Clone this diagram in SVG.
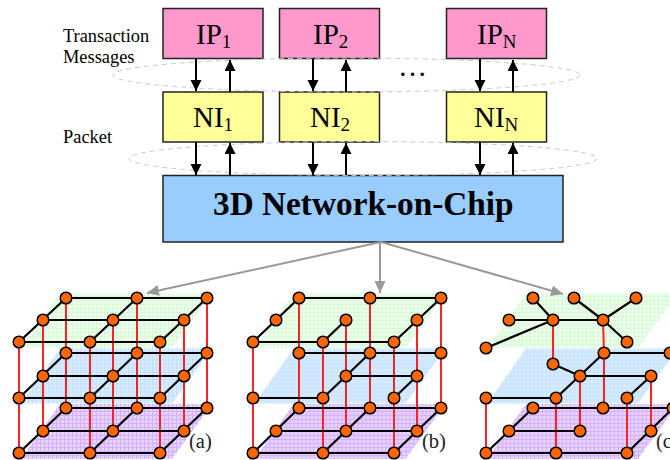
<svg xmlns="http://www.w3.org/2000/svg" width="670" height="460" viewBox="0 0 670 460">
<style>
text{font-family:"Liberation Serif","Times New Roman",serif;fill:#000}
.lab{font-size:18.4px}
.big{font-size:29px}
.sub{font-size:19px}
.tag{font-size:20.5px;fill:#222}
.ip{fill:#ff99cc;stroke:#222;stroke-width:1.5}
.ni{fill:#ffff99;stroke:#222;stroke-width:1.5}
.noc{fill:#99ccff;stroke:#222;stroke-width:1.5}
.halo{fill:none;stroke:#c8c8c8;stroke-width:1;stroke-dasharray:5 4}
.bus{stroke:#000;stroke-width:2;fill:none}
.gray{stroke:#999;stroke-width:2;fill:none}
.k{stroke:#000;stroke-width:2.2;fill:none;stroke-linecap:round}
.r{stroke:#f22;stroke-width:2;fill:none}
.n{fill:#ff6600;stroke:#000;stroke-width:1.5}
</style>
<defs>
<marker id="ah" markerUnits="userSpaceOnUse" markerWidth="12" markerHeight="12" refX="11" refY="5.5" orient="auto"><path d="M0 0L11 5.5L0 11Z" fill="#000"/></marker>
<marker id="ag" markerUnits="userSpaceOnUse" markerWidth="14" markerHeight="12" refX="12" refY="5.5" orient="auto"><path d="M0 0L12 5.5L0 11Z" fill="#999"/></marker>
<pattern id="pg" width="4" height="4" patternUnits="userSpaceOnUse"><rect width="4" height="4" fill="#ecffec"/><path d="M0 .5H4M.5 0V4" stroke="#d8f8d8" stroke-width="1"/></pattern>
<pattern id="pb" width="4" height="4" patternUnits="userSpaceOnUse"><rect width="4" height="4" fill="#d8ecff"/><path d="M0 .5H4M.5 0V4" stroke="#c4e2ff" stroke-width="1"/></pattern>
<pattern id="pp" width="4" height="4" patternUnits="userSpaceOnUse"><rect width="4" height="4" fill="#e6d2ff"/><path d="M0 .5H4M.5 0V4" stroke="#d4b0ff" stroke-width="1"/></pattern>
<polygon id="pl" points="60,293 212,293 172,348 21,348"/>
</defs>
<rect width="670" height="460" fill="#fff"/>

<g id="planes">
<use href="#pl" fill="url(#pg)"/><use href="#pl" y="55.5" fill="url(#pb)"/><use href="#pl" y="111" fill="url(#pp)"/>
<use href="#pl" x="233.5" fill="url(#pg)"/><use href="#pl" x="233.5" y="55.5" fill="url(#pb)"/><use href="#pl" x="233.5" y="111" fill="url(#pp)"/>
<use href="#pl" x="466" fill="url(#pg)"/><use href="#pl" x="466" y="55.5" fill="url(#pb)"/><use href="#pl" x="466" y="111" fill="url(#pp)"/>
</g>

<g id="ip1"><rect class="ip" x="163" y="8.500" width="100" height="50"/><text class="big" x="196" y="44">IP<tspan class="sub" dy="4">1</tspan></text></g>
<g id="ip2"><rect class="ip" x="279.500" y="8.500" width="100" height="50"/><text class="big" x="313" y="44">IP<tspan class="sub" dy="4">2</tspan></text></g>
<g id="ipn"><rect class="ip" x="446.500" y="8.500" width="100" height="50"/><text class="big" x="477" y="44">IP<tspan class="sub" dy="4">N</tspan></text></g>
<g id="ni1"><rect class="ni" x="163" y="92" width="100" height="50"/><text class="big" x="193" y="127">NI<tspan class="sub" dy="4">1</tspan></text></g>
<g id="ni2"><rect class="ni" x="279.500" y="92" width="100" height="50"/><text class="big" x="310" y="127">NI<tspan class="sub" dy="4">2</tspan></text></g>
<g id="nin"><rect class="ni" x="446.500" y="92" width="100" height="50"/><text class="big" x="474" y="127">NI<tspan class="sub" dy="4">N</tspan></text></g>
<g id="noc"><rect class="noc" x="163" y="175.500" width="400" height="66.500"/><text x="213" y="215" font-size="33.300" font-weight="bold">3D Network-on-Chip</text></g>

<g id="labels">
<text class="lab" x="63" y="42">Transaction</text>
<text class="lab" x="63" y="63">Messages</text>
<text class="lab" x="63" y="143">Packet</text>
<text x="398" y="76" font-size="29">…</text>
<text class="tag" x="189" y="448">(a)</text>
<text class="tag" x="422" y="448">(b)</text>
<text class="tag" x="656" y="448">(c)</text>
</g>

<g id="connectors">
<ellipse class="halo" cx="346.500" cy="75" rx="233.500" ry="17"/>
<ellipse class="halo" cx="363" cy="158.500" rx="234" ry="17"/>
<g marker-end="url(#ah)" class="bus">
<path d="M196 59V91"/><path d="M230 92V60"/><path d="M313 59V91"/><path d="M346 92V60"/><path d="M480 59V91"/><path d="M513 92V60"/>
<path d="M196 142V175"/><path d="M230 175V143"/><path d="M313 142V175"/><path d="M346 175V143"/><path d="M480 142V175"/><path d="M513 175V143"/>
</g>
<path class="gray" marker-end="url(#ag)" d="M381 242L147 293"/>
<path class="gray" marker-end="url(#ag)" d="M380 242V293"/>
<path class="gray" marker-end="url(#ag)" d="M381 242L563 294"/>

<g id="mesh-a-edges">
<path class="r" d="M19 342V453M90 342V453M160 342V453M43 320V431M113 320V431M184 320V431M66 298V408M137 298V408M207 298V408"/>
<path class="k" d="M66 298H207M43 320H184M19 342H160M66 298L19 342M137 298L90 342M207 298L160 342"/>
<path class="k" d="M66 353H207M43 376H184M19 398H160M66 353L19 398M137 353L90 398M207 353L160 398"/>
<path class="k" d="M66 408H207M43 431H184M19 453H160M66 408L19 453M137 408L90 453M207 408L160 453"/>
</g>
<g id="mesh-b-edges">
<path class="r" d="M253 342V453M323 342V453M394 342V453M346 320V431M417 320V431M299 298V408M370 298V408M441 298V408"/>
<path class="k" d="M299 298H441M253 342H394M299 298L253 342M346 320L323 342M441 298L394 342"/>
<path class="k" d="M299 353H441M346 376H417M253 398H323M370 353L323 398M417 376L394 398"/>
<path class="k" d="M299 408H441M276 431H417M253 453H394M299 408L253 453M370 408L323 453M441 408L394 453"/>
</g>
<g id="mesh-c-edges">
<path class="r" d="M553 320V364M603 320L604 353M604 353V408M580 376V431M486 398V453M556 398V453M627 398V453M651 376V431"/>
<path class="k" d="M533 298L553 320M509 320H603M486 348L553 320M574 298L603 320M636 298L603 320M603 320L627 342"/>
<path class="k" d="M553 364L580 376M604 353L556 398M486 398H556M604 353H672M580 376H651M627 398L651 376"/>
<path class="k" d="M533 408H672M533 408L486 453M509 431H580M486 453H627M627 453L673 408"/>
</g>
</g>

<g id="mesh-a-nodes">
<g id="a1"><circle class="n" cx="66" cy="298" r="5.800"/></g><g id="a2"><circle class="n" cx="137" cy="298" r="5.800"/></g><g id="a3"><circle class="n" cx="207" cy="298" r="5.800"/></g>
<g id="a4"><circle class="n" cx="43" cy="320" r="5.800"/></g><g id="a5"><circle class="n" cx="113" cy="320" r="5.800"/></g><g id="a6"><circle class="n" cx="184" cy="320" r="5.800"/></g>
<g id="a7"><circle class="n" cx="19" cy="342" r="5.800"/></g><g id="a8"><circle class="n" cx="90" cy="342" r="5.800"/></g><g id="a9"><circle class="n" cx="160" cy="342" r="5.800"/></g>
<g id="a10"><circle class="n" cx="66" cy="353" r="5.800"/></g><g id="a11"><circle class="n" cx="137" cy="353" r="5.800"/></g><g id="a12"><circle class="n" cx="207" cy="353" r="5.800"/></g>
<g id="a13"><circle class="n" cx="43" cy="376" r="5.800"/></g><g id="a14"><circle class="n" cx="113" cy="376" r="5.800"/></g><g id="a15"><circle class="n" cx="184" cy="376" r="5.800"/></g>
<g id="a16"><circle class="n" cx="19" cy="398" r="5.800"/></g><g id="a17"><circle class="n" cx="90" cy="398" r="5.800"/></g><g id="a18"><circle class="n" cx="160" cy="398" r="5.800"/></g>
<g id="a19"><circle class="n" cx="66" cy="408" r="5.800"/></g><g id="a20"><circle class="n" cx="137" cy="408" r="5.800"/></g><g id="a21"><circle class="n" cx="207" cy="408" r="5.800"/></g>
<g id="a22"><circle class="n" cx="43" cy="431" r="5.800"/></g><g id="a23"><circle class="n" cx="113" cy="431" r="5.800"/></g><g id="a24"><circle class="n" cx="184" cy="431" r="5.800"/></g>
<g id="a25"><circle class="n" cx="19" cy="453" r="5.800"/></g><g id="a26"><circle class="n" cx="90" cy="453" r="5.800"/></g><g id="a27"><circle class="n" cx="160" cy="453" r="5.800"/></g>
</g>
<g id="mesh-b-nodes">
<g id="b1"><circle class="n" cx="299" cy="298" r="5.800"/></g><g id="b2"><circle class="n" cx="370" cy="298" r="5.800"/></g><g id="b3"><circle class="n" cx="441" cy="298" r="5.800"/></g>
<g id="b4"><circle class="n" cx="276" cy="320" r="5.800"/></g><g id="b5"><circle class="n" cx="346" cy="320" r="5.800"/></g><g id="b6"><circle class="n" cx="417" cy="320" r="5.800"/></g>
<g id="b7"><circle class="n" cx="253" cy="342" r="5.800"/></g><g id="b8"><circle class="n" cx="323" cy="342" r="5.800"/></g><g id="b9"><circle class="n" cx="394" cy="342" r="5.800"/></g>
<g id="b10"><circle class="n" cx="299" cy="353" r="5.800"/></g><g id="b11"><circle class="n" cx="370" cy="353" r="5.800"/></g><g id="b12"><circle class="n" cx="441" cy="353" r="5.800"/></g>
<g id="b13"><circle class="n" cx="346" cy="376" r="5.800"/></g><g id="b14"><circle class="n" cx="417" cy="376" r="5.800"/></g>
<g id="b15"><circle class="n" cx="253" cy="398" r="5.800"/></g><g id="b16"><circle class="n" cx="323" cy="398" r="5.800"/></g><g id="b17"><circle class="n" cx="394" cy="398" r="5.800"/></g>
<g id="b18"><circle class="n" cx="299" cy="408" r="5.800"/></g><g id="b19"><circle class="n" cx="370" cy="408" r="5.800"/></g><g id="b20"><circle class="n" cx="441" cy="408" r="5.800"/></g>
<g id="b21"><circle class="n" cx="276" cy="431" r="5.800"/></g><g id="b22"><circle class="n" cx="346" cy="431" r="5.800"/></g><g id="b23"><circle class="n" cx="417" cy="431" r="5.800"/></g>
<g id="b24"><circle class="n" cx="253" cy="453" r="5.800"/></g><g id="b25"><circle class="n" cx="323" cy="453" r="5.800"/></g><g id="b26"><circle class="n" cx="394" cy="453" r="5.800"/></g>
</g>
<g id="mesh-c-nodes">
<g id="c1"><circle class="n" cx="533" cy="298" r="5.800"/></g><g id="c2"><circle class="n" cx="574" cy="298" r="5.800"/></g><g id="c3"><circle class="n" cx="636" cy="298" r="5.800"/></g>
<g id="c4"><circle class="n" cx="509" cy="320" r="5.800"/></g><g id="c5"><circle class="n" cx="553" cy="320" r="5.800"/></g><g id="c6"><circle class="n" cx="603" cy="320" r="5.800"/></g>
<g id="c7"><circle class="n" cx="486" cy="348" r="5.800"/></g><g id="c8"><circle class="n" cx="627" cy="342" r="5.800"/></g>
<g id="c9"><circle class="n" cx="604" cy="353" r="5.800"/></g><g id="c10"><circle class="n" cx="670" cy="353" r="5.800"/></g><g id="c11"><circle class="n" cx="553" cy="364" r="5.800"/></g>
<g id="c12"><circle class="n" cx="580" cy="376" r="5.800"/></g><g id="c13"><circle class="n" cx="651" cy="376" r="5.800"/></g>
<g id="c14"><circle class="n" cx="486" cy="398" r="5.800"/></g><g id="c15"><circle class="n" cx="556" cy="398" r="5.800"/></g><g id="c16"><circle class="n" cx="627" cy="398" r="5.800"/></g>
<g id="c17"><circle class="n" cx="533" cy="408" r="5.800"/></g><g id="c18"><circle class="n" cx="603" cy="408" r="5.800"/></g><g id="c19"><circle class="n" cx="673" cy="408" r="5.800"/></g>
<g id="c20"><circle class="n" cx="509" cy="431" r="5.800"/></g><g id="c21"><circle class="n" cx="580" cy="431" r="5.800"/></g><g id="c22"><circle class="n" cx="651" cy="431" r="5.800"/></g>
<g id="c23"><circle class="n" cx="486" cy="453" r="5.800"/></g><g id="c24"><circle class="n" cx="556" cy="453" r="5.800"/></g><g id="c25"><circle class="n" cx="627" cy="453" r="5.800"/></g>
</g>
</svg>
